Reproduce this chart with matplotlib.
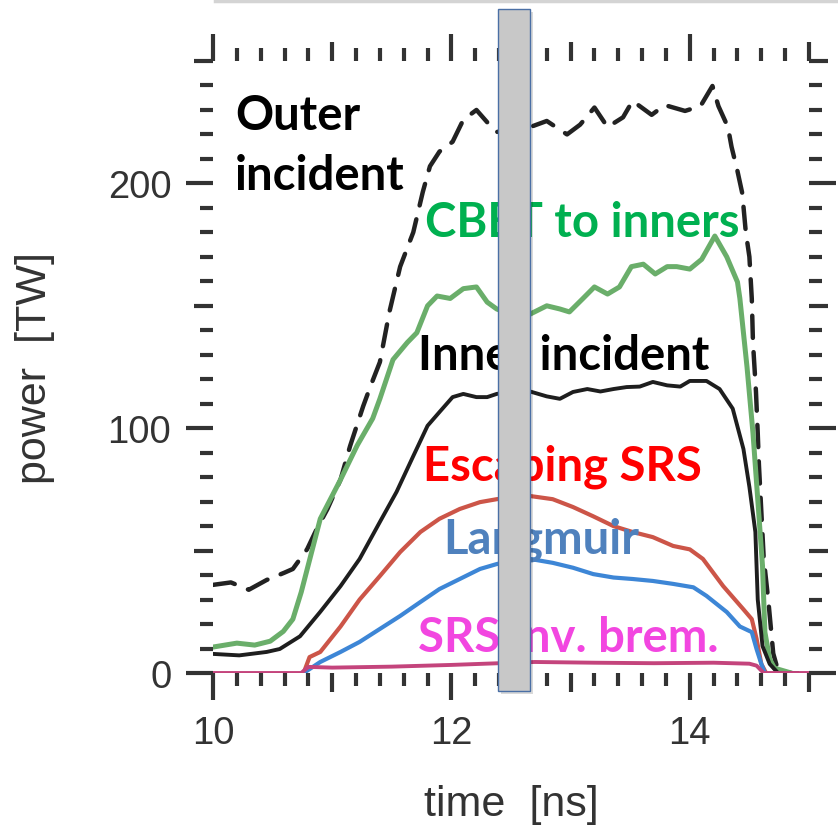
import matplotlib
matplotlib.use("Agg")
import matplotlib.pyplot as plt
from matplotlib.patches import Rectangle
from matplotlib.lines import Line2D
from matplotlib.ticker import MultipleLocator, FuncFormatter

# --- data (time in ns, power in TW) ---
t_outer = [10.0, 10.15, 10.3, 10.45, 10.6, 10.67, 10.79, 10.87, 10.96, 11.07, 11.15, 11.26,
           11.32, 11.40, 11.48, 11.57, 11.68, 11.76, 11.82, 11.90, 12.01, 12.10, 12.21, 12.30,
           12.38, 12.50, 12.66, 12.80, 12.97, 13.08, 13.20, 13.31, 13.44, 13.52, 13.68, 13.79,
           13.96, 14.09, 14.19, 14.24, 14.32, 14.35, 14.40, 14.44, 14.47, 14.50, 14.52, 14.53,
           14.555, 14.57, 14.58, 14.60, 14.62, 14.66, 14.70, 14.74, 14.85]
p_outer = [36, 37, 34, 38, 41, 42.5, 50.6, 58.8, 67, 79, 92.7, 109,
           117, 127, 147.5, 166, 180, 196.5, 207, 213, 217, 226, 230, 225,
           221, 222, 223, 225.5, 220, 224, 231, 223, 227, 233.7, 228, 232,
           229.6, 231.6, 239.8, 231.6, 223, 215, 205, 196, 180, 170, 153, 135,
           115, 98, 85, 66, 47, 29, 8, 1, 0]

t_cbet = [10.0, 10.2, 10.35, 10.48, 10.59, 10.67, 10.74, 10.9, 11.07, 11.21, 11.34, 11.40,
          11.51, 11.63, 11.71, 11.80, 11.88, 11.99, 12.10, 12.21, 12.30, 12.38, 12.52, 12.66,
          12.80, 12.91, 12.99, 13.10, 13.20, 13.31, 13.41, 13.51, 13.61, 13.71, 13.81, 13.89,
          14.00, 14.10, 14.21, 14.31, 14.40, 14.42, 14.48, 14.53, 14.57, 14.61, 14.63, 14.67,
          14.71, 14.85]
p_cbet = [10.6, 12.2, 11.4, 13, 17, 22, 33, 63, 79, 93, 104, 112,
          128, 135, 139, 150, 154, 153, 157, 157.7, 151.5, 148.7, 146, 146.6,
          150, 148.7, 147.5, 152.8, 157.7, 154.8, 157.7, 166, 167, 163, 166, 166,
          165, 169, 178.5, 170, 159.7, 153, 125, 98, 71, 43.7, 16.7, 5.7,
          2, 0]

t_inner = [10.0, 10.22, 10.45, 10.56, 10.73, 10.90, 11.07, 11.23, 11.40, 11.54, 11.68, 11.80,
           11.90, 12.01, 12.10, 12.21, 12.30, 12.38, 12.52, 12.66, 12.80, 12.91, 13.02, 13.14,
           13.25, 13.36, 13.47, 13.58, 13.69, 13.81, 13.92, 14.00, 14.14, 14.25, 14.36, 14.45,
           14.50, 14.55, 14.57, 14.61, 14.67, 14.74, 14.9]
p_inner = [7.8, 7.2, 8.6, 9.8, 15, 25, 35.5, 46.6, 61.7, 74, 88.6, 101,
           106.6, 112.7, 114, 112.7, 112.7, 114, 115, 115, 113, 112, 114.8, 116,
           115, 116, 116.8, 117, 118.9, 117.5, 117, 119.3, 119.3, 116, 108, 91.5,
           76, 57.6, 30, 11, 3.7, 0, 0]

t_srs = [10.76, 10.81, 10.90, 11.07, 11.23, 11.40, 11.57, 11.74, 11.90, 12.07, 12.24, 12.38,
         12.52, 12.66, 12.85, 13.02, 13.19, 13.36, 13.52, 13.69, 13.86, 14.00, 14.11, 14.28,
         14.45, 14.52, 14.56, 14.60, 14.64]
p_srs = [0, 6.5, 8.6, 19, 30, 39.6, 49.4, 57.6, 63, 67, 69.8, 71,
         72, 72.3, 71, 67.8, 64, 60, 57.6, 55.5, 51.9, 50.5, 46.6, 35.5,
         26, 22, 14, 3.7, 0]

t_langmuir = [10.76, 10.90, 11.07, 11.23, 11.40, 11.57, 11.74, 11.90, 12.07, 12.24, 12.38, 12.52,
              12.66, 12.85, 13.02, 13.19, 13.36, 13.52, 13.69, 13.86, 14.03, 14.14, 14.31, 14.42,
              14.52, 14.56, 14.60, 14.63]
p_langmuir = [0, 4.5, 8.6, 12.7, 18, 23.3, 29, 34.3, 38.4, 42.5, 44.5, 46,
              46.6, 45, 43, 40.4, 39, 38.4, 37.6, 36.4, 35, 31.5, 24.9, 19,
              16.7, 9.8, 3.7, 0]

t_ib = [10.0, 10.74, 10.8, 11.0, 11.5, 12.0, 12.4, 12.7, 13.2, 13.7, 14.2, 14.5, 14.56, 14.62, 15.0]
p_ib = [0, 0, 2.5, 2.2, 2.6, 3.3, 4.0, 4.5, 4.2, 4.0, 4.2, 3.8, 3.0, 0, 0]

labels = ["Outer\nincident", "CBET to inners", "Inner incident",
          "Escaping SRS", "Langmuir", "SRS inv. brem."]
label_colors = ["black", "#00b050", "black", "#ff0000", "#4f81bd", "#f246e0"]
label_pos = [(10.185, 197.7), (11.78, 178.5), (11.72, 124), (11.76, 79.2), (11.93, 49.4), (11.72, 9)]

plt.rcParams['font.family'] = ['Liberation Sans', 'DejaVu Sans']
ink = "#333333"

fig = plt.figure(figsize=(8.38, 8.28), dpi=100)
ax = fig.add_axes([213 / 838, 154 / 828, 596 / 838, 612 / 828])

ax.plot(t_outer, p_outer, color="#222222", lw=3.2, dashes=(5.0, 3.2),
        dash_capstyle='round', zorder=2)
ax.plot(t_cbet, p_cbet, color="#6aae6a", lw=3.6, zorder=3)
ax.plot(t_inner, p_inner, color="#1e1e1e", lw=2.8, zorder=4)
ax.plot(t_srs, p_srs, color="#cc5548", lw=3.0, zorder=5)
ax.plot(t_langmuir, p_langmuir, color="#3d86d6", lw=3.0, zorder=6)
ax.plot(t_ib, p_ib, color="#c4447c", lw=2.8, zorder=7)

for txt, c, (x, y) in zip(labels, label_colors, label_pos):
    ax.text(x, y, txt, color=c, family='Lato', fontweight='bold', fontsize=34,
            ha='left', va='baseline', linespacing=1.45, zorder=10)

ax.set_xlim(10, 15)
ax.set_ylim(0, 250)
for s in ax.spines.values():
    s.set_visible(False)

ax.xaxis.set_major_locator(MultipleLocator(1))
ax.xaxis.set_minor_locator(MultipleLocator(0.2))
ax.yaxis.set_major_locator(MultipleLocator(50))
ax.yaxis.set_minor_locator(MultipleLocator(10))
ax.xaxis.set_major_formatter(FuncFormatter(lambda v, p: f"{v:.0f}" if round(v) % 2 == 0 else ""))
ax.yaxis.set_major_formatter(FuncFormatter(lambda v, p: f"{v:.0f}" if round(v) % 100 == 0 else ""))

ax.tick_params(which='both', direction='out', top=True, right=True, color=ink, width=3)
ax.tick_params(which='major', length=14, pad=16, labelsize=27.5, labelcolor=ink)
ax.tick_params(which='minor', length=9.5)

ax.set_xlabel("time  [ns]", fontsize=31, color=ink, labelpad=24)
ax.set_ylabel("power  [TW]", fontsize=31, color=ink, labelpad=38)

fig.canvas.draw()
# longer ticks on the labelled positions
for tk in ax.xaxis.get_major_ticks():
    if round(tk.get_loc()) % 2 == 0:
        tk.tick1line.set_markersize(19.5)
        tk.tick2line.set_markersize(19.5)
for tk in ax.yaxis.get_major_ticks():
    if round(tk.get_loc()) % 100 == 0:
        tk.tick1line.set_markersize(19.5)
        tk.tick2line.set_markersize(19.5)

# grey cover bar on top of the plot
fig.add_artist(Rectangle((501 / 838, (828 - 695) / 828), 32 / 838, 682 / 828,
                         transform=fig.transFigure, facecolor="#000000", alpha=0.15,
                         edgecolor="none", zorder=19))
fig.add_artist(Rectangle((498 / 838, (828 - 692) / 828), 32 / 838, 682 / 828,
                         transform=fig.transFigure, facecolor="#c8c8c8",
                         edgecolor="#4a6fa5", lw=1, zorder=20))
fig.add_artist(Line2D([215 / 838, 1], [1 - 1.5 / 828, 1 - 1.5 / 828],
                      transform=fig.transFigure, color="#d4d4d4", lw=2.5))

fig.savefig("out.png", dpi=100)
